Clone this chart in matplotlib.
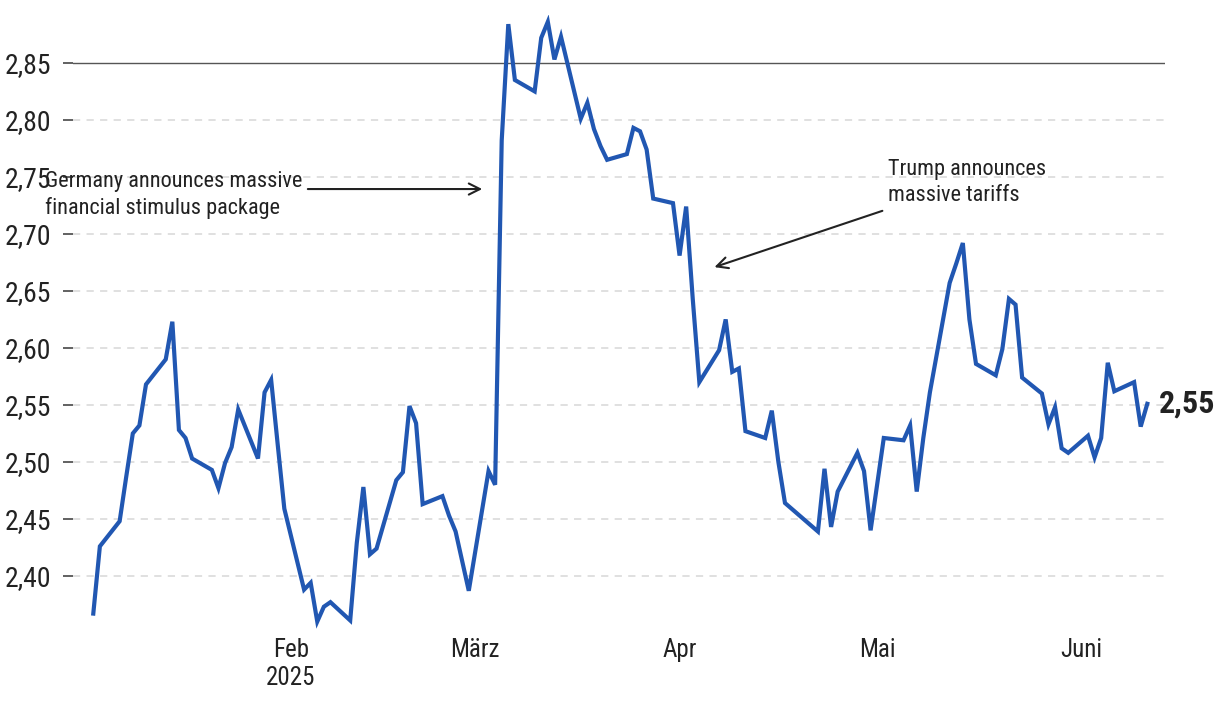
import datetime
import matplotlib
matplotlib.use('Agg')
import matplotlib.pyplot as plt
import matplotlib.dates as mdates

# 10-year Bund yield, 2025
dates = ['01-02', '01-03', '01-06', '01-07', '01-08', '01-09', '01-10', '01-13', '01-14', '01-15',
         '01-16', '01-17', '01-20', '01-21', '01-22', '01-23', '01-24', '01-27', '01-28', '01-29',
         '01-30', '01-31', '02-03', '02-04', '02-05', '02-06', '02-07', '02-10', '02-11', '02-12',
         '02-13', '02-14', '02-17', '02-18', '02-19', '02-20', '02-21', '02-24', '02-25', '02-26',
         '02-27', '02-28', '03-03', '03-04', '03-05', '03-06', '03-07', '03-10', '03-11', '03-12',
         '03-13', '03-14', '03-17', '03-18', '03-19', '03-20', '03-21', '03-24', '03-25', '03-26',
         '03-27', '03-28', '03-31', '04-01', '04-02', '04-03', '04-04', '04-07', '04-08', '04-09',
         '04-10', '04-11', '04-14', '04-15', '04-16', '04-17', '04-22', '04-23', '04-24', '04-25',
         '04-28', '04-29', '04-30', '05-02', '05-05', '05-06', '05-07', '05-08', '05-09', '05-12',
         '05-13', '05-14', '05-15', '05-16', '05-19', '05-20', '05-21', '05-22', '05-23', '05-26',
         '05-27', '05-28', '05-29', '05-30', '06-02', '06-03', '06-04', '06-05', '06-06', '06-09',
         '06-10', '06-11']
yields = [2.367, 2.426, 2.448, 2.487, 2.525, 2.532, 2.568, 2.590, 2.623, 2.528,
          2.521, 2.503, 2.493, 2.477, 2.499, 2.513, 2.546, 2.503, 2.561, 2.572,
          2.515, 2.459, 2.388, 2.394, 2.360, 2.373, 2.377, 2.361, 2.429, 2.478,
          2.419, 2.424, 2.484, 2.491, 2.549, 2.534, 2.463, 2.470, 2.453, 2.439,
          2.413, 2.387, 2.492, 2.480, 2.782, 2.884, 2.835, 2.825, 2.872, 2.886,
          2.853, 2.873, 2.801, 2.815, 2.792, 2.777, 2.765, 2.770, 2.793, 2.790,
          2.774, 2.731, 2.727, 2.681, 2.724, 2.643, 2.570, 2.598, 2.625, 2.579,
          2.582, 2.527, 2.521, 2.545, 2.500, 2.464, 2.439, 2.494, 2.443, 2.474,
          2.508, 2.492, 2.440, 2.521, 2.519, 2.532, 2.474, 2.521, 2.561, 2.657,
          2.674, 2.692, 2.625, 2.586, 2.576, 2.599, 2.643, 2.638, 2.574, 2.560,
          2.533, 2.548, 2.512, 2.508, 2.523, 2.504, 2.521, 2.587, 2.562, 2.570,
          2.531, 2.551]
yticks = [2.40, 2.45, 2.50, 2.55, 2.60, 2.65, 2.70, 2.75, 2.80, 2.85]
month_ticks = ['2025-02-01', '2025-03-01', '2025-04-01', '2025-05-01', '2025-06-01']
month_labels = ['Feb\n2025', 'März', 'Apr', 'Mai', 'Juni']

plt.rcParams['font.family'] = ['Roboto Condensed', 'DejaVu Sans']

x = [datetime.datetime.strptime('2025-' + d, '%Y-%m-%d') for d in dates]

fig = plt.figure(figsize=(12.2, 7.14), dpi=100)
ax = fig.add_axes([73/1220, 84/714, 1092/1220, 615/714])

for t in yticks[:-1]:
    ax.axhline(t, color='#dddddd', lw=1.3, ls=(0, (4, 3.5)), zorder=1)
ax.axhline(yticks[-1], color='#555555', lw=1, zorder=1)

ax.plot(x, yields, color='#2157b2', lw=3, solid_joinstyle='miter', zorder=3)

ax.set_ylim(2.3526, 2.892)
x0 = mdates.date2num(x[0])
x1 = mdates.date2num(x[-1])
ax.set_xlim(x0 - 3.08, x1 + 2.69)

ax.set_yticks(yticks)
ax.set_yticklabels([f'{v:.2f}'.replace('.', ',') for v in yticks])
ax.set_xticks([mdates.date2num(datetime.datetime.strptime(d, '%Y-%m-%d')) for d in month_ticks])
ax.set_xticklabels(month_labels)
ax.tick_params(axis='y', length=7.5, width=1.3, color='#555555', pad=8, labelsize=20, labelcolor='#222222')
ax.tick_params(axis='x', length=0, pad=6, labelsize=18, labelcolor='#222222')
for s in ax.spines.values():
    s.set_visible(False)

ax.text(-0.0256, 0.707, 'Germany announces massive\nfinancial stimulus package', transform=ax.transAxes,
        ha='left', va='center', fontsize=16, color='#222222', linespacing=1.3)
ax.annotate('', xy=(0.3773, 0.717), xytext=(0.2125, 0.717), xycoords='axes fraction',
            arrowprops=dict(arrowstyle='->', color='#222222', lw=1.5, mutation_scale=20))
ax.text(0.746, 0.727, 'Trump announces\nmassive tariffs', transform=ax.transAxes,
        ha='left', va='center', fontsize=16, color='#222222', linespacing=1.3)
ax.annotate('', xy=(0.585, 0.5886), xytext=(0.7436, 0.683), xycoords='axes fraction',
            arrowprops=dict(arrowstyle='->', color='#222222', lw=1.5, mutation_scale=20))

ax.annotate(f'{yields[-1]:.2f}'.replace('.', ','), xy=(x[-1], yields[-1]), xytext=(8, 0),
            textcoords='offset points', ha='left', va='center', fontsize=23, fontweight='bold',
            color='#222222', annotation_clip=False)

fig.savefig('out.png', dpi=100)
